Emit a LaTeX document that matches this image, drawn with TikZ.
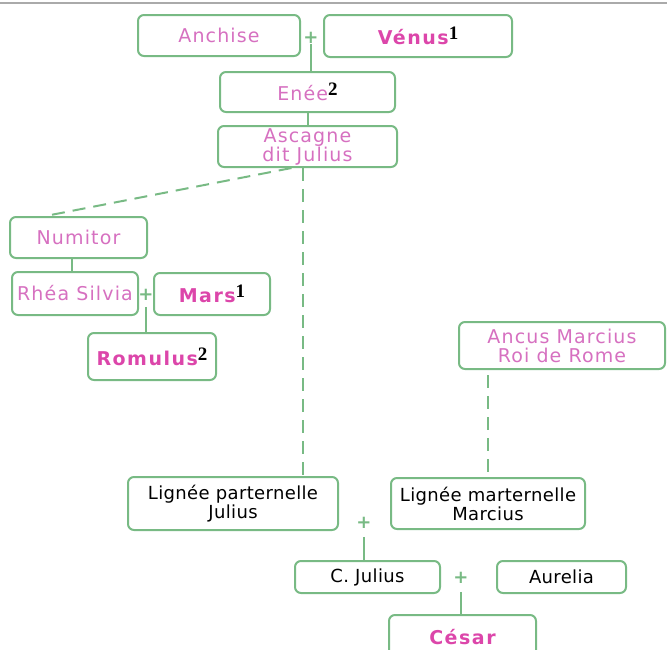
\documentclass[tikz,border=0pt]{standalone}
\usepackage{fontspec}
\setmainfont{DejaVu Sans}
\newfontfamily\supfont{Liberation Serif}
\definecolor{boxgreen}{RGB}{120,186,132}
\definecolor{lightpink}{RGB}{214,112,192}
\definecolor{deeppink}{RGB}{220,70,170}
\definecolor{topgray}{RGB}{170,170,170}
\newcommand{\sups}[1]{\raisebox{5pt}{\supfont\bfseries\color{black}\fontsize{19}{19}\selectfont #1}}
\tikzset{
  famille/.style={draw=boxgreen, line width=2pt, rounded corners=6pt, inner sep=0pt,
    align=center},
  clair/.style={famille, text=lightpink, font=\fontsize{19}{19}\selectfont\addfontfeature{LetterSpace=6}},
  fonce/.style={famille, text=deeppink, font=\fontsize{19}{19}\selectfont\bfseries\addfontfeature{LetterSpace=8}},
  noir/.style={famille, text=black, font=\fontsize{18}{19}\selectfont\addfontfeature{LetterSpace=2}},
  lien/.style={boxgreen, line width=2pt},
  lointain/.style={boxgreen, line width=2pt, dash pattern=on 13pt off 8pt},
  plus/.style={text=boxgreen, inner sep=0pt, font=\fontsize{18}{18}\selectfont\bfseries}
}
\begin{document}
\begin{tikzpicture}[x=1pt,y=-1pt]
\useasboundingbox (0,0) rectangle (667,649);
\clip (0,0) rectangle (667,649);
\draw [topgray, line width=2.5pt] (0,3) -- (667,3);
% branche divine
\node [clair, minimum width=162pt, minimum height=41pt] (anchise) at (219,35.5) {Anchise};
\node [fonce, minimum width=188pt, minimum height=42pt] (venus) at (418,36) {Vénus\sups{1}};
\node [plus] (plus1) at (311,38) {+};
\node [clair, minimum width=175pt, minimum height=40pt] (enee) at (307.5,92) {Enée\sups{2}};
\node [clair, minimum width=179pt, minimum height=41pt] (ascagne) at (307.5,146.5) {Ascagne\\dit Julius};
% Albe et Rome
\node [clair, minimum width=137pt, minimum height=41pt] (numitor) at (78.5,237.5) {Numitor};
\node [clair, minimum width=126pt, minimum height=43pt] (rhea) at (75,293.5) {Rhéa Silvia};
\node [plus] (plus2) at (146,295) {+};
\node [fonce, minimum width=116pt, minimum height=42pt] (mars) at (212,294) {Mars\sups{1}};
\node [fonce, minimum width=128pt, minimum height=47pt] (romulus) at (152,356.5) {Romulus\sups{2}};
\node [clair, minimum width=206pt, minimum height=47pt] (ancus) at (562,345.5) {Ancus Marcius\\Roi de Rome};
% les deux lignees
\node [noir, minimum width=210pt, minimum height=53pt] (pat) at (233,503.5) {Lignée parternelle\\Julius};
\node [noir, minimum width=194pt, minimum height=51pt] (mat) at (488,503.5) {Lignée marternelle\\Marcius};
\node [plus] (plus3) at (364,523) {+};
\node [noir, minimum width=145pt, minimum height=32pt] (cjulius) at (367.5,577) {C. Julius};
\node [plus] (plus4) at (461,578) {+};
\node [noir, minimum width=129pt, minimum height=32pt] (aurelia) at (561.5,577) {Aurelia};
\node [fonce, minimum width=147pt, minimum height=44pt] (cesar) at (462.5,637) {César};
% liens
\draw [lien] (plus1.south) -- (plus1.south |- enee.north);
\draw [lien] (enee.south) -- (ascagne.north);
\draw [lointain] ([xshift=-16pt]ascagne.south) -- ([xshift=-33pt]numitor.north);
\draw [lointain] ([xshift=-5pt]ascagne.south) -- ([xshift=-5pt]ascagne.south |- pat.north);
\draw [lien] ([xshift=-7pt]numitor.south) -- ([xshift=-7pt]numitor.south |- rhea.north);
\draw [lien] ([yshift=-6pt]plus2.south) -- (plus2.south |- romulus.north);
\draw [lointain] ([yshift=-5pt]mat.north |- ancus.south) -- (mat.north);
\draw [lien] ([yshift=-8pt]plus3.south) -- (plus3.south |- cjulius.north);
\draw [lien] ([yshift=-8pt]plus4.south) -- (plus4.south |- cesar.north);
\end{tikzpicture}
\end{document}
